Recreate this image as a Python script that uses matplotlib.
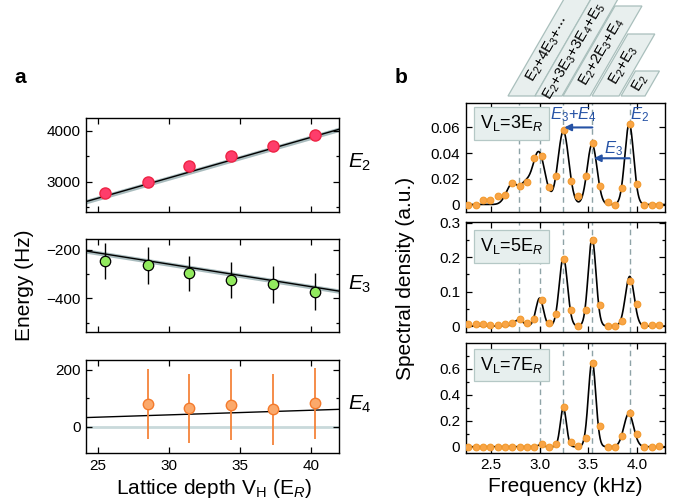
import numpy as np
import matplotlib
matplotlib.use("Agg")
import matplotlib.pyplot as plt
from matplotlib.patches import Polygon
from matplotlib.ticker import MultipleLocator, FixedLocator, NullLocator

plt.rcParams['font.family'] = ['Liberation Sans', 'DejaVu Sans']
plt.rcParams['mathtext.fontset'] = 'custom'
plt.rcParams['mathtext.rm'] = 'Liberation Sans'
plt.rcParams['mathtext.it'] = 'Liberation Sans:italic'
plt.rcParams['mathtext.bf'] = 'Liberation Sans:bold'

# ---------------- data: panel a ----------------
depth = [25.5, 28.5, 31.45, 34.4, 37.35, 40.3]
E2 = [2778, 3006, 3314, 3516, 3712, 3927]
E3 = [-248, -264, -298, -325, -342, -373]
E3_err = [73, 76, 73, 75, 75, 75]
depth4 = [28.5, 31.45, 34.4, 37.35, 40.3]
E4 = [80, 65, 77, 61, 82]
E4_err = [125, 122, 125, 125, 126]

fit_depth = [24.15, 42.0]
fit_E2 = [2614, 4033]
fit_E3 = [-206, -370]
fit_E4 = [32, 61]
band_E2 = 45
band_E3 = 9

# ---------------- data: panel b ----------------
freq = [2.27, 2.345, 2.42, 2.495, 2.57, 2.645, 2.72, 2.795, 2.87, 2.945,
        3.02, 3.095, 3.17, 3.245, 3.32, 3.395, 3.47, 3.545, 3.62, 3.695,
        3.77, 3.845, 3.92, 3.995, 4.07, 4.145, 4.22]
spec3 = [0, 0, 0.0034, 0.0036, 0.0064, 0.0073, 0.0167, 0.0146, 0.0176, 0.0362,
         0.0378, 0.0133, 0.0223, 0.058, 0.018, 0.007, 0.0223, 0.048, 0.0146, 0.0018,
         0, 0.0128, 0.0628, 0.0159, 0, 0, 0]
spec5 = [0.005, 0.005, 0.005, 0.003, 0.003, 0.006, 0.008, 0.020, 0.008, 0.019,
         0.077, 0.010, 0.034, 0.195, 0.048, 0.0, 0.048, 0.251, 0.062, 0.0,
         0.0, 0.014, 0.131, 0.065, 0.003, 0.003, 0.003]
spec7 = [0, 0, 0, 0, 0, 0, 0, 0, 0, 0,
         0.018, 0, 0.018, 0.309, 0.039, 0.005, 0.070, 0.649, 0.160, 0,
         0, 0.082, 0.263, 0.098, 0, 0, 0.005]

# fitted peak parameters (centre kHz, height, width kHz)
pk3_c = [2.72, 2.85, 2.99, 3.243, 3.537, 3.917]
pk3_h = [0.016, 0.013, 0.041, 0.057, 0.047, 0.063]
pk3_s = [0.06, 0.05, 0.065, 0.055, 0.05, 0.045]
pk5_c = [2.785, 3.0, 3.243, 3.537, 3.922]
pk5_h = [0.018, 0.081, 0.199, 0.255, 0.144]
pk5_s = [0.045, 0.038, 0.042, 0.04, 0.045]
pk7_c = [3.01, 3.243, 3.537, 3.912]
pk7_h = [0.018, 0.30, 0.66, 0.255]
pk7_s = [0.025, 0.031, 0.038, 0.05]

lines3 = [2.785, 3.0, 3.243, 3.54, 3.92]
lines5 = [2.785, 3.0, 3.243, 3.54, 3.92]
lines7 = [3.0, 3.243, 3.54, 3.92]

panel_labels = [r"V$_\mathrm{L}$=3E$_R$", r"V$_\mathrm{L}$=5E$_R$", r"V$_\mathrm{L}$=7E$_R$"]
box_labels = [r"E$_2$+4E$_3$+$\cdots$", r"E$_2$+3E$_3$+3E$_4$+E$_5$",
              r"E$_2$+2E$_3$+E$_4$", r"E$_2$+E$_3$", r"E$_2$"]

W, H = 688, 503
fig = plt.figure(figsize=(W / 100, H / 100), dpi=100)


def ax_px(x0, x1, y0, y1):
    return fig.add_axes([x0 / W, 1 - y1 / H, (x1 - x0) / W, (y1 - y0) / H])


def style(ax):
    for s in ax.spines.values():
        s.set_linewidth(1.0)
    ax.tick_params(which='both', direction='in', top=True, right=True,
                   labelsize=11, width=0.9, pad=4)
    ax.tick_params(which='major', length=4)
    ax.tick_params(which='minor', length=2.5)


# ---------------- panel a ----------------
axA1 = ax_px(86, 339, 118, 212)
axA2 = ax_px(86, 339, 239.5, 331.7)
axA3 = ax_px(86, 339, 360, 453.3)

fx = np.array(fit_depth)
f2 = np.array(fit_E2)
axA1.fill_between(fx, f2 - band_E2, f2 + band_E2, color='#a9bcbe', lw=0, zorder=1)
axA1.plot(fx, f2, color='black', lw=1.0, zorder=2)
axA1.plot(depth, E2, 'o', ms=8, mfc='#fe3d6b', mec='#ee2445', mew=1, zorder=3)
axA1.set_ylim(2410, 4255)
axA1.yaxis.set_major_locator(FixedLocator([3000, 4000]))
axA1.yaxis.set_minor_locator(FixedLocator([2500, 3500]))

f3 = np.array(fit_E3)
axA2.fill_between(fx, f3 - band_E3, f3 + band_E3, color='#a9bcbe', lw=0, zorder=1)
axA2.plot(fx, f3, color='black', lw=1.0, zorder=2)
axA2.errorbar(depth, E3, yerr=E3_err, fmt='o', ms=7.5, mfc='#92ea5e', mec='black',
              mew=0.9, ecolor='black', elinewidth=1.0, capsize=0, zorder=3)
axA2.set_ylim(-536, -159)
axA2.yaxis.set_major_locator(FixedLocator([-200, -400]))
axA2.yaxis.set_minor_locator(FixedLocator([-300, -500]))

axA3.axhline(0, color='#c9d9db', lw=2, zorder=1)
axA3.plot(fx, fit_E4, color='black', lw=1.0, zorder=2)
axA3.errorbar(depth4, E4, yerr=E4_err, fmt='o', ms=7.5, mfc='#fba96b', mec='#f47a2c',
              mew=1, ecolor='#f4843a', elinewidth=1.3, capsize=0, zorder=3)
axA3.set_ylim(-94, 235)
axA3.yaxis.set_major_locator(FixedLocator([0, 200]))
axA3.yaxis.set_minor_locator(FixedLocator([100]))

for ax in (axA1, axA2, axA3):
    ax.set_xlim(24.15, 42.0)
    ax.xaxis.set_major_locator(FixedLocator([25, 30, 35, 40]))
    style(ax)
axA1.tick_params(labelbottom=False)
axA2.tick_params(labelbottom=False)

for lab, yc in zip([r"$E_2$", r"$E_3$", r"$E_4$"], [162, 284, 404]):
    fig.text(348 / W, 1 - yc / H, lab, fontsize=15, ha='left', va='center')

fig.text(24 / W, 1 - 285 / H, "Energy (Hz)", rotation=90, fontsize=15,
         ha='center', va='center')
fig.text(214 / W, 1 - 494 / H, r"Lattice depth V$_\mathrm{H}$ (E$_R$)", fontsize=15,
         ha='center', va='baseline')
fig.text(20 / W, 1 - 77 / H, "a", fontsize=15, fontweight='bold', ha='center', va='center')
fig.text(401 / W, 1 - 77 / H, "b", fontsize=15, fontweight='bold', ha='center', va='center')

# ---------------- panel b ----------------
axB1 = ax_px(465.7, 665, 103.3, 211.7)
axB2 = ax_px(465.7, 665, 222.3, 331.7)
axB3 = ax_px(465.7, 665, 343.3, 452.7)

xs = np.linspace(2.2, 4.3, 800)


def peaks(x, c, h, s):
    y = np.zeros_like(x)
    for ci, hi, si in zip(c, h, s):
        y += hi * np.exp(-0.5 * ((x - ci) / si) ** 2)
    return y


dash_col = '#8ea3a7'
pt_kw = dict(ls='none', marker='o', ms=4.8, mfc='#f9a546', mec='#f39a2e', mew=0.8, zorder=4)
box_kw = dict(boxstyle='square,pad=0.35', fc='#e7efee', ec='#b5c8c6', lw=0.9)

setups = [
    (axB1, spec3, pk3_c, pk3_h, pk3_s, lines3, (-0.0056, 0.0788), 0.02, None, 0.815),
    (axB2, spec5, pk5_c, pk5_h, pk5_s, lines5, (-0.0164, 0.301), 0.1, 0.05, 0.78),
    (axB3, spec7, pk7_c, pk7_h, pk7_s, lines7, (-0.046, 0.798), 0.2, 0.1, 0.80),
]
for i, (ax, sp, c, h, s, vl, ylim, maj, mnr, ylab) in enumerate(setups):
    for v in vl:
        ax.axvline(v, color=dash_col, lw=1.0, ls=(0, (4, 3)), zorder=1)
    ax.plot(xs, peaks(xs, c, h, s), color='black', lw=1.2, zorder=3)
    ax.plot(freq, sp, **pt_kw)
    ax.set_xlim(2.244, 4.283)
    ax.set_ylim(*ylim)
    ax.xaxis.set_major_locator(FixedLocator([2.5, 3.0, 3.5, 4.0]))
    ax.yaxis.set_major_locator(MultipleLocator(maj))
    if mnr is None:
        ax.yaxis.set_minor_locator(NullLocator())
    else:
        ax.yaxis.set_minor_locator(MultipleLocator(mnr))
    style(ax)
    ax.text(0.072, ylab, panel_labels[i], transform=ax.transAxes, fontsize=13,
            ha='left', va='center', bbox=box_kw, zorder=5)
    if i < 2:
        ax.tick_params(labelbottom=False)

axB1.yaxis.set_major_formatter(matplotlib.ticker.FuncFormatter(
    lambda v, p: "0" if abs(v) < 1e-9 else f"{v:.2f}"))
axB2.yaxis.set_major_formatter(matplotlib.ticker.FuncFormatter(
    lambda v, p: "0" if abs(v) < 1e-9 else f"{v:.1f}"))
axB3.yaxis.set_major_formatter(matplotlib.ticker.FuncFormatter(
    lambda v, p: "0" if abs(v) < 1e-9 else f"{v:.1f}"))
axB3.xaxis.set_major_formatter(matplotlib.ticker.FuncFormatter(lambda v, p: f"{v:.1f}"))

blue = '#2552a5'
arrow_kw = dict(arrowstyle='-|>', color=blue, lw=1.5, mutation_scale=10, shrinkA=0, shrinkB=0)
axB1.annotate('', xy=(3.252, 0.060), xytext=(3.54, 0.060), arrowprops=arrow_kw, zorder=6)
axB1.annotate('', xy=(3.555, 0.036), xytext=(3.92, 0.036), arrowprops=arrow_kw, zorder=6)
axB1.text(3.342, 0.0698, r"$E_3$+$E_4$", color=blue, fontsize=12, ha='center', va='center')
axB1.text(3.761, 0.0436, r"$E_3$", color=blue, fontsize=12, ha='center', va='center')
axB1.text(4.027, 0.0698, r"$E_2$", color=blue, fontsize=12, ha='center', va='center')

fig.text(405 / W, 1 - 278 / H, "Spectral density (a.u.)", rotation=90, fontsize=15,
         ha='center', va='center')
fig.text(565 / W, 1 - 492 / H, "Frequency (kHz)", fontsize=15, ha='center', va='baseline')

# slanted label boxes above panel b
t60 = 1 / np.tan(np.radians(60))
boxes = [(508, 27, -3), (535, 27, -3), (563, 27, 6), (592, 27, 34), (621, 24, 71)]
text_dy = [3, 5, 1, 0, 0]
yb = 96
for (xl, wd, yt), lab, dy in zip(boxes, box_labels, text_dy):
    dx = (yb - yt) * t60
    pts = [(xl, yb), (xl + wd, yb), (xl + wd + dx, yt), (xl + dx, yt)]
    poly = Polygon([(px / W, 1 - py / H) for px, py in pts], closed=True,
                   transform=fig.transFigure, fc='#e8efee', ec='#a9bfbc', lw=0.9)
    fig.add_artist(poly)
    cy = (yb + yt) / 2 + dy
    cx = xl + wd / 2 + (yb - cy) * t60
    fig.text(cx / W, 1 - cy / H, lab, rotation=60, rotation_mode='anchor',
             fontsize=10.8, ha='center', va='center')

fig.savefig("out.png", dpi=100)
